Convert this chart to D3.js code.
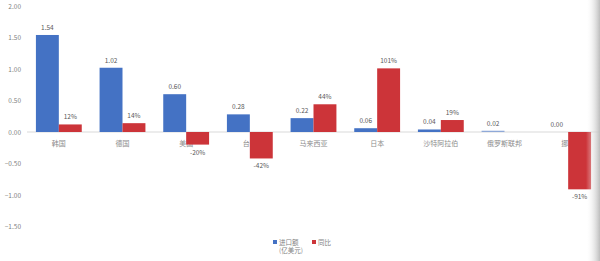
<!DOCTYPE html>
<html>
<head>
<meta charset="utf-8">
<script src="https://cdn.jsdelivr.net/npm/d3@7"></script>
<style>
	body { margin: 0; background: #fff; }
	svg { display: block; font-family: "Noto Sans CJK SC", "Liberation Sans", sans-serif; }
</style>
</head>
<body>
<div id="chart"></div>
<script>
// Chart data
const categories = ["韩国", "德国", "美国", "台湾", "马来西亚", "日本", "沙特阿拉伯", "俄罗斯联邦", "挪威"];
const importValues = [1.54, 1.02, 0.60, 0.28, 0.22, 0.06, 0.04, 0.02, 0.00];
const yoyValues = [0.12, 0.14, -0.20, -0.42, 0.44, 1.01, 0.19, null, -0.91];
const yoyLabels = ["12%", "14%", "-20%", "-42%", "44%", "101%", "19%", "", "-91%"];
const yTicks = [2, 1.5, 1, 0.5, 0, -0.5, -1, -1.5];

const width = 600;
const height = 261;
const blue = "#4472c4";
const red = "#cc3439";

const svg = d3.select("#chart").append("svg")
	.attr("width", width)
	.attr("height", height);

// Scales
const x = d3.scaleBand()
	.domain(categories)
	.range([27, 600])
	.paddingInner(0.28)
	.paddingOuter(0.14);

const y = d3.scaleLinear()
	.domain([-1.5, 2])
	.range([226.5, 6]);

const half = x.bandwidth() / 2;

// Y axis labels (no line)
svg.append("g")
	.selectAll("text")
	.data(yTicks)
	.join("text")
	.attr("x", 21)
	.attr("y", d => y(d) + 2.5)
	.attr("text-anchor", "end")
	.attr("fill", "#7f7f7f")
	.style("font-size", "6.5px")
	.text(d => d3.format(".2f")(d));

// Zero line
svg.append("line")
	.attr("x1", 27)
	.attr("x2", 600)
	.attr("y1", y(0))
	.attr("y2", y(0))
	.attr("stroke", "#d9d9d9")
	.attr("stroke-width", 1);

// Category labels (bars are drawn over them)
svg.append("g")
	.selectAll("text")
	.data(categories)
	.join("text")
	.attr("x", d => x(d) + x.bandwidth() / 2)
	.attr("y", y(0) + 14)
	.attr("text-anchor", "middle")
	.attr("fill", "#8c8c8c")
	.style("font-size", "7px")
	.text(d => d);

// Import bars
svg.append("g")
	.selectAll("rect")
	.data(categories)
	.join("rect")
	.attr("x", d => x(d))
	.attr("width", half)
	.attr("y", (d, i) => y(Math.max(0, importValues[i])))
	.attr("height", (d, i) => Math.abs(y(importValues[i]) - y(0)))
	.attr("fill", (d, i) => i === 7 ? "#8fa9d8" : blue);

// YoY bars
svg.append("g")
	.selectAll("rect")
	.data(categories.filter((d, i) => yoyValues[i] !== null))
	.join("rect")
	.attr("x", d => x(d) + half)
	.attr("width", half)
	.attr("y", d => y(Math.max(0, yoyValues[categories.indexOf(d)])))
	.attr("height", d => Math.abs(y(yoyValues[categories.indexOf(d)]) - y(0)))
	.attr("fill", red);

// Import value labels
svg.append("g")
	.selectAll("text")
	.data(categories)
	.join("text")
	.attr("x", d => x(d) + half / 2)
	.attr("y", (d, i) => y(importValues[i]) - 5)
	.attr("text-anchor", "middle")
	.attr("fill", "#595959")
	.style("font-size", "6.5px")
	.text((d, i) => d3.format(".2f")(importValues[i]));

// YoY labels
svg.append("g")
	.selectAll("text")
	.data(categories.filter((d, i) => yoyValues[i] !== null))
	.join("text")
	.attr("x", d => x(d) + half * 1.5)
	.attr("y", d => {
		const v = yoyValues[categories.indexOf(d)];
		return v >= 0 ? y(v) - 5 : y(v) + 10;
	})
	.attr("text-anchor", "middle")
	.attr("fill", "#595959")
	.style("font-size", "6.5px")
	.text(d => yoyLabels[categories.indexOf(d)]);

// Legend
const legend = svg.append("g").attr("transform", "translate(273, 243)");
legend.append("rect").attr("x", 0).attr("y", -3).attr("width", 4).attr("height", 4).attr("fill", blue);
legend.append("text").attr("x", 6).attr("y", 1.5).attr("fill", "#7f7f7f").style("font-size", "6.5px").text("进口额");
legend.append("text").attr("x", 6).attr("y", 10).attr("fill", "#7f7f7f").style("font-size", "6.5px").text("(亿美元)");
legend.append("rect").attr("x", 39).attr("y", -3).attr("width", 4).attr("height", 4).attr("fill", red);
legend.append("text").attr("x", 45).attr("y", 1.5).attr("fill", "#7f7f7f").style("font-size", "6.5px").text("同比");

// Page shadow on right edge
const grad = svg.append("defs").append("linearGradient").attr("id", "edge");
grad.append("stop").attr("offset", 0).attr("stop-color", "#fff").attr("stop-opacity", 0);
grad.append("stop").attr("offset", 1).attr("stop-color", "#bdbdbd").attr("stop-opacity", 1);
svg.append("rect")
	.attr("x", 586)
	.attr("y", 0)
	.attr("width", 14)
	.attr("height", height)
	.attr("fill", "url(#edge)");
</script>
</body>
</html>
